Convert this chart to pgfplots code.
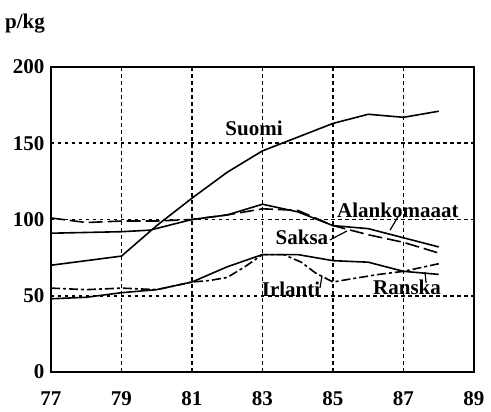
\documentclass[border=0pt]{standalone}
\usepackage{pgfplots}
\pgfplotsset{compat=1.18}
\usepackage{fontspec}
\setmainfont{Liberation Serif}
\begin{document}
\begin{tikzpicture}[x=1pt,y=1pt]
\useasboundingbox (0,0) rectangle (491,412);
\node[anchor=base west,font=\fontsize{21}{25}\selectfont\bfseries,inner sep=0pt] at (5,383) {p/kg};
\begin{axis}[
  at={(51pt,40pt)}, anchor=south west,
  scale only axis, width=423pt, height=305pt,
  xmin=77, xmax=89, ymin=0, ymax=200,
  xtick={77,79,...,89}, ytick={0,50,...,200},
  major tick length=0pt,
  grid=major,
  major grid style={black, line width=1.8pt, dash pattern=on 3.5pt off 3.5pt},
  axis line style={black, line width=2pt},
  /pgf/number format/assume math mode=true,
  /pgf/number format/1000 sep={},
  tick label style={font=\fontsize{21}{25}\selectfont\bfseries},
  xticklabel style={yshift=-16pt},
  yticklabel style={xshift=-3pt},
  clip=false,
]
% Suomi
\addplot[black, line width=1.6pt] coordinates {
 (77,70) (79,76) (80,96) (81,114) (82,131) (83,145) (84,154) (85,163) (86,169) (87,167) (88,171)};
% Alankomaaat (solid)
\addplot[black, line width=1.6pt] coordinates {
 (77,91) (79,92) (79.8,93) (81,100) (82,103) (83,110) (84,105) (85,96) (86,94) (87,88) (88,82)};
% Saksa (long dashes)
\addplot[black, line width=1.6pt, dash pattern=on 14pt off 5pt] coordinates {
 (77,101) (78,98) (79,99) (80,99) (81,100) (82,103) (83,107) (84,106) (85,96) (86,90) (87,85) (88,78)};
% Ranska (solid lower)
\addplot[black, line width=1.6pt] coordinates {
 (77,48) (78,49) (79,52) (80,54) (81,59) (82,69) (83,77) (84,77) (85,73) (86,72) (87,66) (88,64)};
% Irlanti (dash-dot)
\addplot[black, line width=1.6pt, dash pattern=on 9pt off 3pt on 3pt off 3pt] coordinates {
 (77,55) (78,54) (79,55) (80,54) (81,59) (81.5,60) (82,62) (82.5,69) (83,77) (83.6,77) (84.1,72) (84.5,65) (85,59) (85.5,61) (86.3,64) (87,66) (88,71)};
% labels
\begin{scope}[every node/.style={font=\fontsize{21}{25}\selectfont\bfseries, inner sep=0pt, anchor=base}]
\node at (axis cs:82.76,154.8) {Suomi};
\node at (axis cs:86.84,101) {Alankomaaat};
\node at (axis cs:84.12,83.3) {Saksa};
\node at (axis cs:83.81,49.2) {Irlanti};
\node at (axis cs:87.1,50.5) {Ranska};
\end{scope}
\draw[black, line width=1.2pt] (axis cs:86.84,101.6) -- (axis cs:86.62,93.1);
\draw[black, line width=1.2pt] (axis cs:84.91,86.6) -- (axis cs:85.40,92.5);
\draw[black, line width=1.2pt] (axis cs:84.63,55.1) -- (axis cs:84.69,63);
\draw[black, line width=1.2pt] (axis cs:87.64,58.4) -- (axis cs:87.61,65.6);
\end{axis}
\end{tikzpicture}
\end{document}
